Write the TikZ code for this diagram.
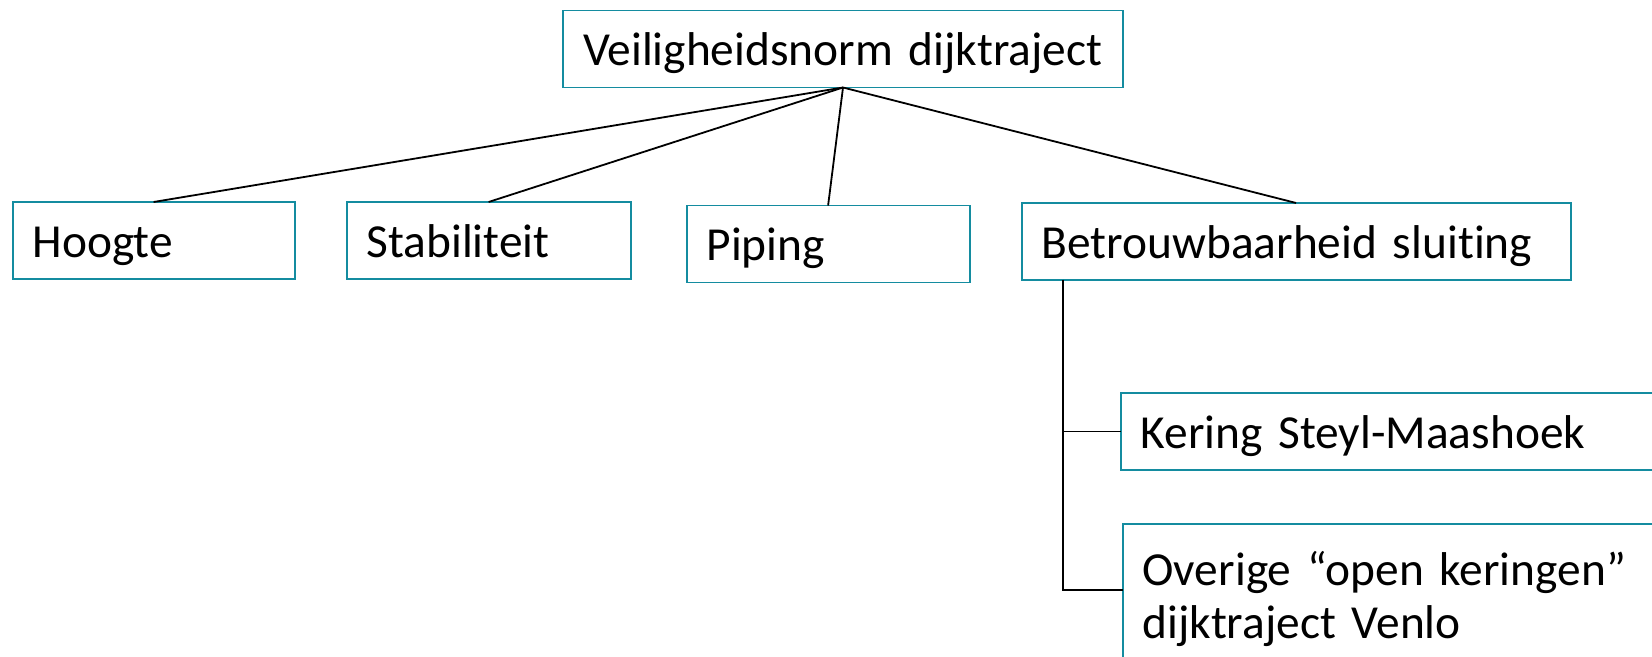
\documentclass[tikz,border=0pt]{standalone}
\usepackage{fontspec}
\setmainfont{Carlito}[WordSpace=0.75, Ligatures=NoCommon]
\usepackage{tikz}
\usetikzlibrary{positioning, calc}
\definecolor{tealBoxFg}{RGB}{20, 140, 160}
\tikzstyle{line} = [line width=0.9pt]
\tikzstyle{basic} = [rectangle, minimum height=38.5pt, inner xsep=10pt, outer sep=0pt, align=left, draw=tealBoxFg, line width=0.9pt, fill=white, text=black, text height=19pt, text depth=2pt, font=\fontsize{23.7}{26.5}\selectfont]

\begin{document}
\begin{tikzpicture}[node distance=0mm]
\useasboundingbox (0,0) rectangle (826pt,-328.5pt);

\node (norm) [basic, text width=260pt, anchor=north west] at (281.5pt,-5.25pt) {Veiligheidsnorm dijktraject};

\node (hoogte) [basic, text width=121pt, anchor=north west] at (6.3pt,-101pt) {Hoogte};
\node (stab) [basic, text width=122pt, anchor=north west, xshift=26pt] at(hoogte.north east) {Stabiliteit};
\node (piping) [basic, text width=121.5pt, anchor=north west, xshift=28pt, yshift=-1.75pt] at(stab.north east) {Piping};
\node (betrouw) [basic, text width=254.5pt, anchor=north west, xshift=26pt, yshift=1.25pt] at(piping.north east) {Betrouwbaarheid sluiting};

\node (kering) [basic, text width=250pt, anchor=north west, xshift=49.5pt, yshift=-56.5pt] at(betrouw.south west) {Kering Steyl-Maashoek};
\node (overige) [basic, text width=250pt, inner ysep=11.5pt, text depth=28.5pt, anchor=north west, xshift=1pt, yshift=-27pt] at(kering.south west) {Overige “open keringen”\\dijktraject Venlo};

\draw [line] (norm.south) -- (hoogte.north);
\draw [line] (norm.south) -- (stab.north);
\draw [line] (norm.south) -- (piping.north);
\draw [line] (norm.south) -- (betrouw.north);

\coordinate (split) at ($(betrouw.south west) + (20.5pt, 0)$);
\draw [line] (split) |- (kering.west);
\draw [line] (split) |- ($(overige.north west) + (0, -33pt)$);

\end{tikzpicture}
\end{document}
